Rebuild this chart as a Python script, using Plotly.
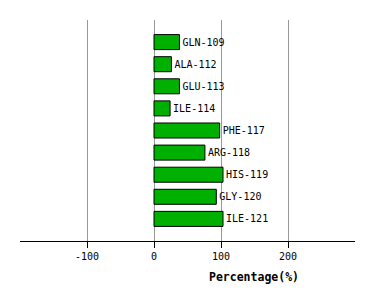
import plotly.graph_objects as go

residues = ["GLN-109", "ALA-112", "GLU-113", "ILE-114", "PHE-117",
            "ARG-118", "HIS-119", "GLY-120", "ILE-121"]
percent = [38, 26, 38, 24, 98, 76, 103, 93, 103]
xticks = [-100, 0, 100, 200]

ypos = list(range(len(residues)))

fig = go.Figure(go.Bar(
    x=percent, y=ypos, orientation="h",
    text=residues, textposition="outside", constraintext="none",
    cliponaxis=False,
    textfont=dict(family="DejaVu Sans Mono", size=10, color="#000000"),
    marker=dict(color="#00b000", line=dict(color="#000000", width=1)),
    width=0.68,
))

fig.update_layout(
    width=374, height=300,
    margin=dict(l=20, r=19, t=20, b=59),
    paper_bgcolor="white", plot_bgcolor="white",
    showlegend=False,
    font=dict(family="DejaVu Sans Mono", size=10, color="#000000"),
    xaxis=dict(range=[-200, 300], tickvals=xticks, ticktext=[str(v) for v in xticks],
               showgrid=True, gridcolor="#999999", gridwidth=1,
               zeroline=True, zerolinecolor="#999999", zerolinewidth=1,
               showline=True, linecolor="#000000", linewidth=1,
               ticks="outside", ticklen=6, tickcolor="#000000",
               tickfont=dict(family="DejaVu Sans Mono", size=10, color="#000000")),
    yaxis=dict(range=[9, -1], showticklabels=False, showgrid=False,
               zeroline=False, showline=False, ticks=""),
    annotations=[dict(text="<b>Percentage(%)</b>", xref="paper", yref="paper",
                      x=0.70, y=-0.12, xanchor="center", yanchor="top",
                      showarrow=False,
                      font=dict(family="DejaVu Sans Mono", size=11.5, color="#000000"))],
)

fig.write_html("out.html")
